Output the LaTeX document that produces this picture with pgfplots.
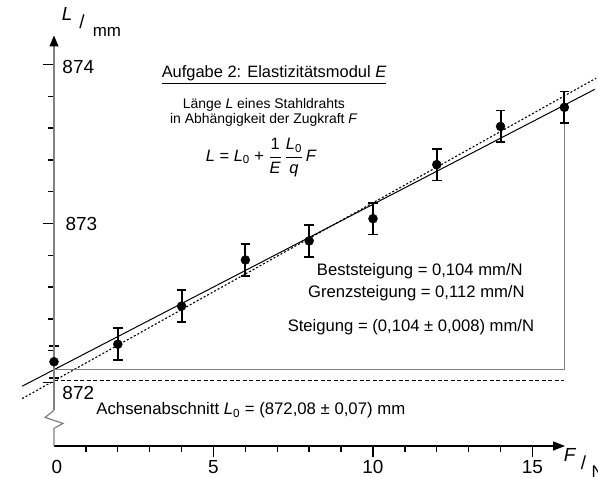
\documentclass[border=0pt]{standalone}
\usepackage{amsmath}
\usepackage{fontspec}
\setmainfont{Liberation Sans}
\usepackage{pgfplots}
\pgfplotsset{compat=1.18}
\usetikzlibrary{arrows.meta}

\newcommand{\fs}[1]{\fontsize{#1}{#1}\selectfont}

\begin{document}
\begin{tikzpicture}
\useasboundingbox (-54bp,-31bp) rectangle (544bp,446bp);
\begin{axis}[
  scale only axis, width=511bp, height=410.5bp,
  xmin=0, xmax=16.02, ymin=871.6, ymax=874.182,
  clip=false,
  axis x line*=bottom, axis y line*=left,
  x axis line style={line width=1.6bp, -{Triangle[length=12bp,width=9bp]}},
  y axis line style={draw=none},
  xtick={5,10,15}, minor xtick={1,2,3,4,6,7,8,9,11,12,13,14},
  ytick={872,873,874}, minor ytick={872.2,872.4,872.6,872.8,873.2,873.4,873.6,873.8},
  xticklabels={}, yticklabels={},
  tick align=outside,
  major tick length=11bp, minor tick length=6bp,
  every tick/.style={black, line width=1.4bp},
]
% fit lines
\addplot[black, line width=1bp] coordinates {(-1,871.976) (16.96,873.844)};
\addplot[black, line width=1.1bp, dash pattern=on 2bp off 2bp] coordinates {(-1,871.898) (17,873.914)};
\addplot[gray, line width=1bp] coordinates {(0,872.08) (16,872.08) (16,873.73)};
\addplot[black, line width=0.8bp, dash pattern=on 4bp off 2.5bp] coordinates {(0,872.01) (16,872.01)};
% measurements
\addplot[black, only marks, mark=*, mark size=4.5bp,
  error bars/.cd, y dir=both, y fixed=0.1,
  error bar style={line width=1.9bp, black},
  error mark options={rotate=90, mark size=4.8bp, line width=1.8bp, black}]
  coordinates {(0,872.13) (2,872.24) (4,872.48) (6,872.77) (8,872.89)
               (10,873.03) (12,873.37) (14,873.61) (16,873.73)};
% y axis with break
\draw[gray, line width=1.2bp] (axis cs:0,871.6) -- (axis cs:0,871.711) -- (axis cs:0.28,871.742)
  -- (axis cs:-0.28,871.780) -- (axis cs:0,871.824);
\draw[gray, line width=1.2bp, -{Triangle[color=black,length=11bp,width=9bp]}]
  (axis cs:0,871.824) -- (axis cs:0,874.182);
% tick labels
\node[font=\fs{19}, anchor=west, inner sep=0pt] at (axis cs:0.26,873.981) {874};
\node[font=\fs{19}, anchor=west, inner sep=0pt] at (axis cs:0.36,872.994) {873};
\node[font=\fs{19}, anchor=west, inner sep=0pt] at (axis cs:0.26,871.931) {872};
\node[font=\fs{19}, inner sep=0pt] at (axis cs:0.09,871.47) {0};
\node[font=\fs{19}, inner sep=0pt] at (axis cs:5,871.47) {5};
\node[font=\fs{19}, inner sep=0pt] at (axis cs:10,871.47) {10};
\node[font=\fs{19}, inner sep=0pt] at (axis cs:15,871.47) {15};
% axis labels
\node[font=\fs{19}] at (axis cs:0.41,874.32) {\textit{L}};
\node[font=\fs{19}] at (axis cs:0.88,874.27) {/};
\node[font=\fs{17}] at (axis cs:1.66,874.205) {mm};
\node[font=\fs{19}] at (axis cs:16.18,871.545) {\textit{F}};
\node[font=\fs{19}] at (axis cs:16.6,871.497) {/};
\node[font=\fs{17}] at (axis cs:17.05,871.44) {N};
% annotations
\node[font=\fs{16.5}, anchor=base] at (axis cs:6.9,873.918) {\underline{Aufgabe 2: Elastizitätsmodul \textit{E}}};
\node[font=\fs{14}] at (axis cs:6.58,873.748) {Länge \textit{L} eines Stahldrahts};
\node[font=\fs{14}] at (axis cs:6.58,873.654) {in Abhängigkeit der Zugkraft \textit{F}};
\node[font=\fs{16.5}] at (axis cs:6.5,873.415)
  {\textit{L} = \textit{L}\textsubscript{0} + $\dfrac{\textnormal{1}}{\textnormal{\textit{E}}}$\,$\dfrac{\textnormal{\textit{L}\textsubscript{0}}}{\textnormal{\textit{q}}}$\,\textit{F}};
\node[font=\fs{16.7}] at (axis cs:11.47,872.698) {Beststeigung = 0,104 mm/N};
\node[font=\fs{16.7}] at (axis cs:11.36,872.560) {Grenzsteigung = 0,112 mm/N};
\node[font=\fs{16.7}] at (axis cs:11.19,872.346) {Steigung = (0,104 ± 0,008) mm/N};
\node[font=\fs{16.8}, anchor=west] at (axis cs:1.22,871.824) {Achsenabschnitt \textit{L}\textsubscript{0} = (872,08 ± 0,07) mm};
\end{axis}
\end{tikzpicture}
\end{document}
